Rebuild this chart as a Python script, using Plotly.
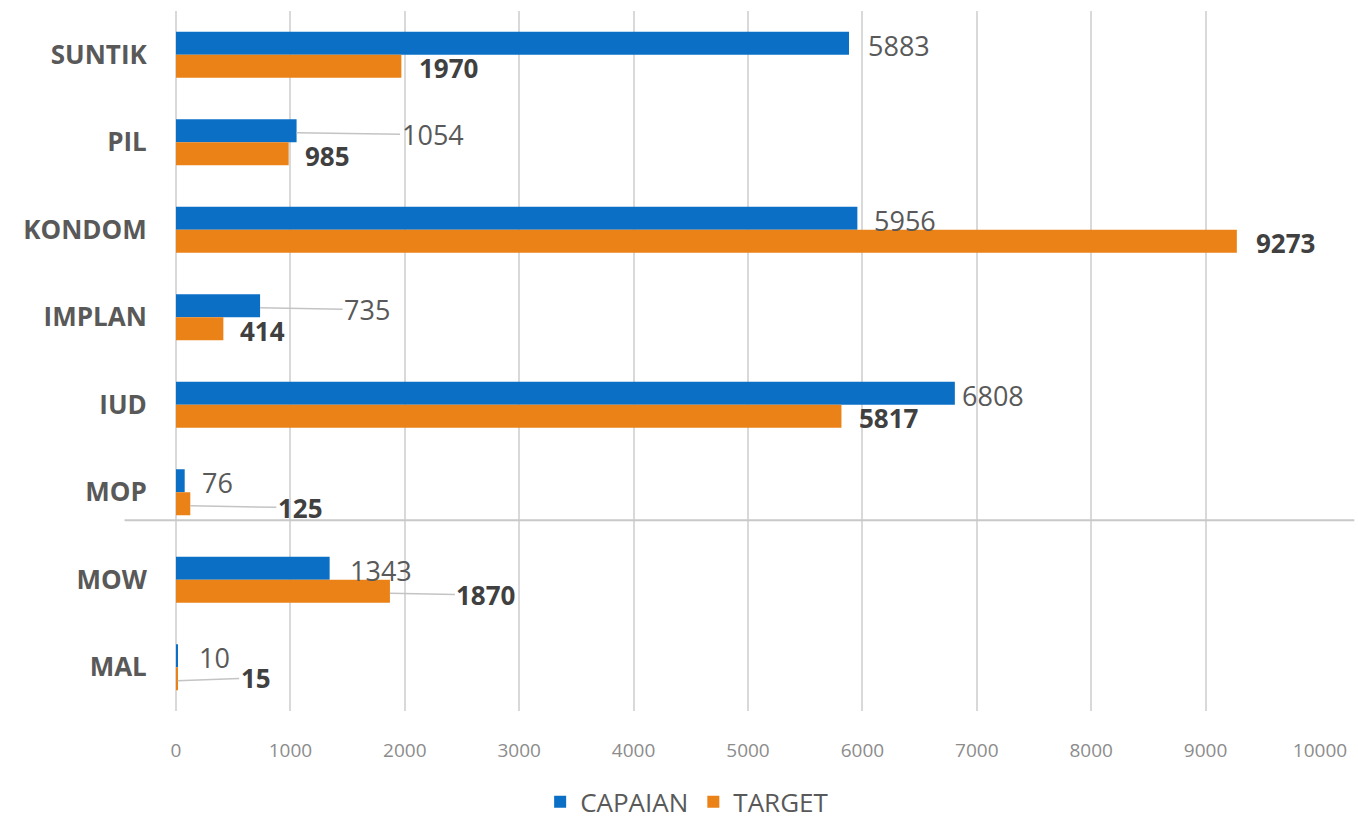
import plotly.graph_objects as go

categories = ["SUNTIK", "PIL", "KONDOM", "IMPLAN", "IUD", "MOP", "MOW", "MAL"]
capaian = [5883, 1054, 5956, 735, 6808, 76, 1343, 10]
target = [1970, 985, 9273, 414, 5817, 125, 1870, 15]
x_ticks = [0, 1000, 2000, 3000, 4000, 5000, 6000, 7000, 8000, 9000, 10000]

BLUE = "#0b6fc5"
ORANGE = "#ea8217"
FONT = "Open Sans"

# label placement (pixels): either plain gap to the right, or leader line (ax, ay)
cap_gap = {"SUNTIK": 17, "KONDOM": 15, "IUD": 5, "MOP": 15, "MOW": 18, "MAL": 20}
cap_leader = {"PIL": (136, 2), "IMPLAN": (107, 2)}
tgt_gap = {"SUNTIK": 16, "PIL": 14, "KONDOM": 17, "IMPLAN": 15, "IUD": 16}
tgt_leader = {"MOP": (110, 2), "MOW": (96, 2), "MAL": (78, -3)}

fig = go.Figure()
fig.add_trace(go.Bar(y=categories, x=capaian, name="CAPAIAN", orientation="h",
                     marker=dict(color=BLUE, line=dict(width=0))))
fig.add_trace(go.Bar(y=categories, x=target, name="TARGET", orientation="h",
                     marker=dict(color=ORANGE, line=dict(width=0))))

annotations = []
for cat, v in zip(categories, capaian):
    base = dict(x=v, y=cat, xref="x", yref="y", text=str(v),
                font=dict(family=FONT, size=27, color="#595959"), yshift=9.5)
    if cat in cap_leader:
        ax, ay = cap_leader[cat]
        base.update(showarrow=True, arrowhead=0, arrowwidth=1.5, arrowcolor="#c4c4c4",
                    ax=ax, ay=ay, standoff=0, startstandoff=0)
    else:
        base.update(showarrow=False, xanchor="left", xshift=cap_gap[cat])
    annotations.append(base)

for cat, v in zip(categories, target):
    base = dict(x=v, y=cat, xref="x", yref="y", text="<b>%d</b>" % v,
                font=dict(family=FONT, size=26, color="#404040"), yshift=-13.5)
    if cat in tgt_leader:
        ax, ay = tgt_leader[cat]
        base.update(showarrow=True, arrowhead=0, arrowwidth=1.5, arrowcolor="#c4c4c4",
                    ax=ax, ay=ay, standoff=0, startstandoff=0)
    else:
        base.update(showarrow=False, xanchor="left", xshift=tgt_gap[cat])
    annotations.append(base)

fig.update_layout(
    width=1358, height=819,
    margin=dict(l=176, r=34, t=11, b=108),
    paper_bgcolor="white", plot_bgcolor="white",
    barmode="group", bargap=0.474, bargroupgap=0,
    font=dict(family=FONT, color="#595959"),
    annotations=annotations,
    showlegend=True,
    legend=dict(orientation="h", xref="container", yref="container",
                x=0.506, y=0.021, xanchor="center", yanchor="middle",
                font=dict(family=FONT, size=26, color="#595959"),
                itemwidth=30, traceorder="normal"),
    shapes=[dict(type="line", xref="paper", yref="y", x0=-0.045, x1=1.03,
                 y0=5.32, y1=5.32, line=dict(color="#c8c8c8", width=2))],
)
fig.update_xaxes(range=[0, 10000], tickvals=x_ticks, ticktext=[str(t) for t in x_ticks],
                 showgrid=True, gridcolor="#d9d9d9", gridwidth=1.5,
                 zeroline=True, zerolinecolor="#d9d9d9", zerolinewidth=1.5,
                 showline=False, ticks="outside", ticklen=22, tickcolor="rgba(0,0,0,0)",
                 tickfont=dict(family=FONT, size=19, color="#8c8c8c"))
fig.update_yaxes(autorange="reversed", showgrid=False, zeroline=False, showline=False,
                 ticks="outside", ticklen=23, tickcolor="rgba(0,0,0,0)",
                 tickfont=dict(family=FONT, size=26, color="#595959", weight="bold"))

fig.write_html("out.html", config={"displayModeBar": False},
               post_script="document.body.style.margin='0';")
